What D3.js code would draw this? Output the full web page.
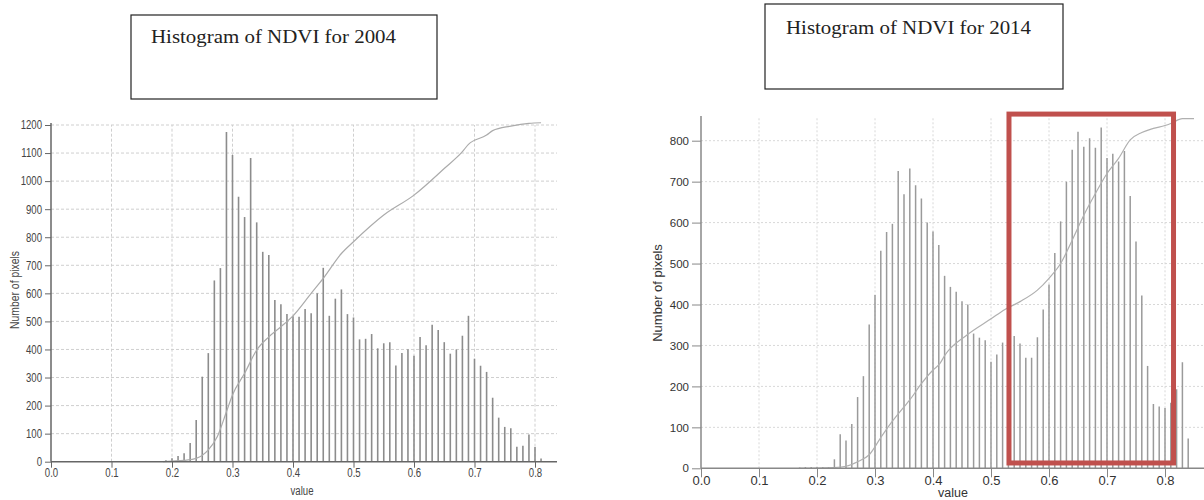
<!DOCTYPE html>
<html><head><meta charset="utf-8">
<script src="https://cdn.jsdelivr.net/npm/d3@7"></script>
<style>
html,body{margin:0;padding:0;background:#fff;}
svg{display:block;}
</style></head>
<body>
<svg id="c" width="1204" height="500"></svg>
<script>
// ---------- DATA ----------
const titles = ["Histogram of NDVI for 2004", "Histogram of NDVI for 2014"];
const xTicks = [0.0, 0.1, 0.2, 0.3, 0.4, 0.5, 0.6, 0.7, 0.8];
const xTickLabels = ["0.0","0.1","0.2","0.3","0.4","0.5","0.6","0.7","0.8"];
const leftYTicks = [0,100,200,300,400,500,600,700,800,900,1000,1100,1200];
const rightYTicks = [0,100,200,300,400,500,600,700,800];

const leftBins = [0.19,0.20,0.21,0.22,0.23,0.24,0.25,0.26,0.27,0.28,0.29,0.30,0.31,0.32,0.33,0.34,0.35,0.36,0.37,0.38,0.39,0.40,0.41,0.42,0.43,0.44,0.45,0.46,0.47,0.48,0.49,0.50,0.51,0.52,0.53,0.54,0.55,0.56,0.57,0.58,0.59,0.60,0.61,0.62,0.63,0.64,0.65,0.66,0.67,0.68,0.69,0.70,0.71,0.72,0.73,0.74,0.75,0.76,0.77,0.78,0.79,0.80,0.81];
const leftCounts = [5,12,20,30,67,149,303,387,646,690,1175,1093,944,872,1082,853,748,737,576,561,526,518,517,544,529,600,691,520,581,614,526,514,436,438,455,404,422,426,343,387,401,378,444,415,488,469,426,385,400,449,520,367,342,320,228,157,124,119,53,57,97,52,11];
const leftCumX = [0.185,0.20,0.22,0.24,0.26,0.275,0.29,0.30,0.32,0.34,0.36,0.38,0.40,0.43,0.45,0.48,0.50,0.55,0.60,0.65,0.68,0.69,0.72,0.73,0.76,0.79,0.81];
const leftCumY = [0,2,5,12,42,90,178,238,315,398,445,481,520,600,653,742,784,879,950,1045,1105,1131,1164,1180,1196,1206,1208];

const rightBins = [0.17,0.18,0.19,0.20,0.21,0.22,0.23,0.24,0.25,0.26,0.27,0.28,0.29,0.30,0.31,0.32,0.33,0.34,0.35,0.36,0.37,0.38,0.39,0.40,0.41,0.42,0.43,0.44,0.45,0.46,0.47,0.48,0.49,0.50,0.51,0.52,0.53,0.54,0.55,0.56,0.57,0.58,0.59,0.60,0.61,0.62,0.63,0.64,0.65,0.66,0.67,0.68,0.69,0.70,0.71,0.72,0.73,0.74,0.75,0.76,0.77,0.78,0.79,0.80,0.81,0.82,0.83,0.84];
const rightCounts = [2,3,3,3,3,3,22,83,68,108,174,225,351,423,531,577,597,726,669,732,691,659,600,578,545,470,443,431,408,400,329,319,313,260,278,307,320,323,305,270,270,320,388,449,526,603,700,778,822,785,806,783,832,758,768,749,775,665,554,422,250,157,151,147,160,193,259,73];
const rightCumX = [0.17,0.23,0.25,0.27,0.29,0.31,0.33,0.35,0.36,0.378,0.40,0.412,0.42,0.458,0.50,0.524,0.55,0.58,0.60,0.62,0.64,0.66,0.68,0.70,0.72,0.74,0.76,0.78,0.80,0.81,0.83,0.85];
const rightCumY = [0,2,5,16,33,75,115,150,167,203,240,256,275,325,365,388,407,435,464,500,557,618,671,720,757,802,820,830,837,842,854,854];

// highlight box on 2014 chart (data units)
const boxX = [0.531, 0.8147];
const boxY = [13, 865];

// ---------- DRAW ----------
const svg = d3.select("#c");

function titleBox(x, y, w, h, tx, ty, text) {
  svg.append("rect").attr("x", x).attr("y", y).attr("width", w).attr("height", h)
    .attr("fill", "#fff").attr("stroke", "#222").attr("stroke-width", 1.2);
  svg.append("text").attr("x", tx).attr("y", ty)
    .attr("font-family", "'Liberation Serif','DejaVu Serif',serif")
    .attr("font-size", 18.5).attr("fill", "#222")
    .attr("textLength", 245).attr("lengthAdjust", "spacingAndGlyphs")
    .text(text);
}
titleBox(131, 15, 306, 84, 151, 43, titles[0]);
titleBox(765, 4, 298, 85, 786, 34, titles[1]);

function squeeze(sel, factor) {
  if (factor === 1) return;
  sel.each(function () {
    const w = this.getComputedTextLength();
    d3.select(this).attr("textLength", w * factor).attr("lengthAdjust", "spacingAndGlyphs");
  });
}

function chart(cfg) {
  const x = d3.scaleLinear().domain(cfg.xDomain).range(cfg.xRange);
  const y = d3.scaleLinear().domain(cfg.yDomain).range(cfg.yRange);
  const g = svg.append("g");
  const font = cfg.font;

  // grid
  g.append("g").selectAll("line").data(cfg.yTicks.filter(d => d > 0)).join("line")
    .attr("x1", x(0)).attr("x2", cfg.gridRight)
    .attr("y1", d => y(d)).attr("y2", d => y(d))
    .attr("stroke", cfg.gridColor).attr("stroke-width", 1).attr("stroke-dasharray", cfg.dash);
  g.append("g").selectAll("line").data(xTicks.filter(d => d > 0)).join("line")
    .attr("x1", d => x(d)).attr("x2", d => x(d))
    .attr("y1", y(0)).attr("y2", cfg.gridTop)
    .attr("stroke", cfg.gridColor).attr("stroke-width", 1).attr("stroke-dasharray", cfg.dash);

  // bars
  g.append("g").selectAll("line").data(cfg.bins).join("line")
    .attr("x1", d => x(d)).attr("x2", d => x(d))
    .attr("y1", y(0)).attr("y2", (d, i) => y(cfg.counts[i]))
    .attr("stroke", cfg.barColor).attr("stroke-width", cfg.barWidth);

  // cumulative line
  const pts = cfg.cumX.map((d, i) => [d, cfg.cumY[i]]);
  g.append("path").datum(pts)
    .attr("d", d3.line().x(d => x(d[0])).y(d => y(d[1])).curve(d3.curveMonotoneX))
    .attr("fill", "none").attr("stroke", cfg.lineColor).attr("stroke-width", 1.2);

  // axes
  const yAxis = d3.axisLeft(y).tickValues(cfg.yTicks).tickSize(cfg.tickLen).tickSizeOuter(0).tickFormat(d3.format("d"));
  const ya = g.append("g").attr("transform", `translate(${x(0)},0)`).call(yAxis);
  ya.select(".domain").remove();
  g.append("line").attr("x1", x(0)).attr("x2", x(0)).attr("y1", y(0)).attr("y2", cfg.gridTop - 2)
    .attr("stroke", cfg.axisColor).attr("stroke-width", 1.5);
  ya.selectAll("line").attr("stroke", cfg.axisColor);
  ya.selectAll("text").attr("font-family", font).attr("font-size", cfg.yFont).attr("fill", cfg.textColor);
  squeeze(ya.selectAll("text"), cfg.squeeze);

  const xAxis = d3.axisBottom(x).tickValues(xTicks).tickSize(cfg.tickLen).tickSizeOuter(0)
    .tickFormat((d, i) => xTickLabels[i]);
  const xa = g.append("g").attr("transform", `translate(0,${y(0)})`).call(xAxis);
  xa.select(".domain").remove();
  g.append("line").attr("x1", x(0)).attr("x2", cfg.gridRight).attr("y1", y(0)).attr("y2", y(0))
    .attr("stroke", cfg.axisColor).attr("stroke-width", 1.5);
  xa.selectAll("line").attr("stroke", cfg.axisColor);
  xa.selectAll("text").attr("font-family", font).attr("font-size", cfg.xFont).attr("fill", cfg.textColor)
    .attr("dy", cfg.xLabelDy);
  squeeze(xa.selectAll("text"), cfg.squeeze);

  // axis titles
  const yt = g.append("text").attr("transform", `translate(${cfg.yTitlePos[0]},${cfg.yTitlePos[1]}) rotate(-90)`)
    .attr("text-anchor", "middle").attr("font-family", font).attr("font-size", cfg.yTitleFont)
    .attr("fill", cfg.textColor).text("Number of pixels");
  squeeze(yt, cfg.squeeze);
  const xt = g.append("text").attr("x", cfg.xTitlePos[0]).attr("y", cfg.xTitlePos[1])
    .attr("text-anchor", "middle").attr("font-family", font).attr("font-size", cfg.xTitleFont)
    .attr("fill", cfg.textColor).text("value");
  squeeze(xt, cfg.squeeze);

  return {x, y};
}

chart({
  xDomain: [0, 0.8], xRange: [51, 535],
  yDomain: [0, 1200], yRange: [461.7, 125],
  yTicks: leftYTicks,
  gridRight: 557, gridTop: 125,
  gridColor: "#cfcfcf", dash: "3,2",
  bins: leftBins, counts: leftCounts, barColor: "#8c8c8c", barWidth: 1.6,
  cumX: leftCumX, cumY: leftCumY, lineColor: "#ababab",
  axisColor: "#666", tickLen: 6, font: "'Liberation Sans',Arial,sans-serif",
  textColor: "#444", squeeze: 0.8,
  yFont: 12, xFont: 12, xLabelDy: "0.55em",
  yTitlePos: [19, 290], yTitleFont: 13,
  xTitlePos: [302, 495], xTitleFont: 12
});

const r = chart({
  xDomain: [0, 0.8], xRange: [701, 1165],
  yDomain: [0, 800], yRange: [468.3, 140.7],
  yTicks: rightYTicks,
  gridRight: 1204, gridTop: 118,
  gridColor: "#d8d8d8", dash: "2,2",
  bins: rightBins, counts: rightCounts, barColor: "#9a9a9a", barWidth: 1.5,
  cumX: rightCumX, cumY: rightCumY, lineColor: "#b0b0b0",
  axisColor: "#888", tickLen: 9, font: "'Liberation Sans',Arial,sans-serif",
  textColor: "#333", squeeze: 1,
  yFont: 11.5, xFont: 13, xLabelDy: "0.35em",
  yTitlePos: [662, 293], yTitleFont: 13,
  xTitlePos: [953, 497], xTitleFont: 12.5
});

// highlight box
svg.append("rect")
  .attr("x", r.x(boxX[0])).attr("y", r.y(boxY[1]))
  .attr("width", r.x(boxX[1]) - r.x(boxX[0]))
  .attr("height", r.y(boxY[0]) - r.y(boxY[1]))
  .attr("fill", "none").attr("stroke", "#c0504d").attr("stroke-width", 5);
</script>
</body></html>
